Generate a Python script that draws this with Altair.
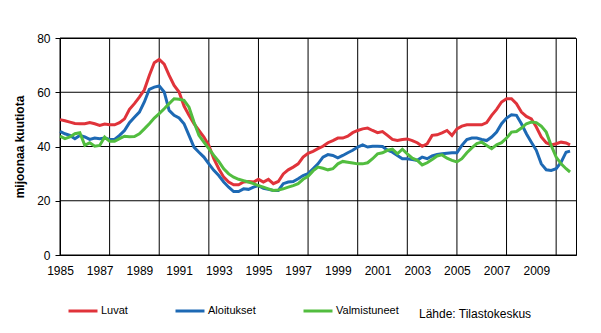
import altair as alt
import pandas as pd

# Quarterly time points (decimal years)
years = [1985 + 0.25 * i for i in range(103)] + [2010.7]

luvat = [
    49.9, 49.5, 49.0, 48.5,
    48.4, 48.4, 48.8, 48.4,
    47.8, 48.3, 48.0, 48.0,
    48.8, 50.2, 53.7, 55.8,
    58.2, 60.9, 66.2, 70.9,
    72.1, 70.4, 66.2, 62.5,
    60.1, 54.9, 51.5, 48.4,
    45.9, 43.5, 40.4, 35.5,
    31.8, 28.7, 26.9, 25.9,
    25.9, 26.9, 27.1, 26.9,
    27.9, 26.9, 27.9, 26.3,
    27.1, 29.9, 31.4, 32.4,
    33.6, 36.1, 37.5, 38.2,
    39.2, 40.1, 41.4, 42.2,
    43.1, 43.1, 43.8, 45.1,
    45.9, 46.5, 46.8, 45.9,
    45.1, 45.5, 44.1, 42.6,
    42.2, 42.6, 42.8, 42.2,
    41.4, 40.1, 41.0, 44.1,
    44.3, 45.0, 45.9, 44.1,
    46.5, 47.5, 48.0, 48.0,
    48.0, 48.0, 48.8, 51.5,
    53.7, 56.4, 57.6, 57.6,
    55.8, 52.7, 51.1, 50.2,
    47.2, 43.5, 41.4, 40.6,
    41.0, 41.6, 41.3, 40.6,
]

aloitukset = [
    45.6, 44.7, 44.1, 42.9,
    44.1, 43.5, 42.6, 43.1,
    42.9, 43.1, 42.6, 42.6,
    44.1, 45.9, 48.8, 50.8,
    52.7, 56.4, 61.1, 61.9,
    62.3, 60.1, 53.3, 51.5,
    50.5, 48.4, 44.1, 39.8,
    37.9, 36.1, 33.6, 31.2,
    29.3, 26.9, 25.0, 23.4,
    23.4, 24.4, 24.2, 25.0,
    25.6, 24.6, 24.2, 23.8,
    23.8, 26.3, 26.9, 27.1,
    28.1, 29.3, 30.0, 31.8,
    33.6, 36.1, 37.0, 36.7,
    35.8, 36.7, 37.7, 38.6,
    39.8, 40.6, 39.8, 40.1,
    40.1, 40.0, 38.6, 37.9,
    36.7, 35.5, 35.5, 35.2,
    34.9, 36.1, 35.5, 36.5,
    37.1, 37.3, 37.5, 37.7,
    37.7, 40.4, 42.6, 43.1,
    43.1, 42.6, 42.2, 43.5,
    45.3, 48.4, 50.5, 51.7,
    51.5, 48.4, 44.7, 41.6,
    38.6, 33.6, 31.4, 31.2,
    31.8, 34.2, 37.9, 38.3,
]

valmistuneet = [
    43.8, 42.9, 43.5, 44.7,
    45.1, 40.4, 41.4, 40.1,
    40.4, 43.5, 41.9, 41.9,
    42.9, 43.8, 43.6, 43.7,
    44.7, 46.5, 48.4, 50.5,
    52.1, 53.9, 55.8, 57.6,
    57.4, 57.0, 54.5, 49.0,
    44.1, 41.6, 39.2, 36.7,
    34.5, 31.8, 29.9, 28.7,
    27.9, 27.4, 26.9, 26.3,
    25.6, 25.0, 24.4, 23.8,
    24.0, 24.4, 25.0, 25.6,
    26.3, 27.9, 29.0, 31.0,
    32.4, 32.0, 31.4, 31.8,
    33.6, 34.5, 34.2, 33.9,
    33.6, 33.6, 34.0, 35.5,
    37.3, 37.7, 38.6, 39.0,
    37.3, 39.0, 37.3, 35.7,
    34.9, 33.2, 34.0, 35.2,
    36.5, 36.9, 35.7, 34.9,
    34.3, 35.5, 37.7, 39.5,
    41.1, 41.6, 40.4, 39.2,
    40.6, 41.4, 43.1, 45.3,
    45.5, 46.8, 48.4, 49.0,
    48.8, 47.5, 45.3, 40.4,
    36.1, 33.6, 31.8, 30.6,
]

series_names = ["Luvat", "Aloitukset", "Valmistuneet"]
series_colors = ["#E0333A", "#1D69B4", "#52BD3F"]
grid_years = [1985 + 2.5 * k for k in range(11)]
label_years = list(range(1985, 2010, 2))
y_ticks = [0, 20, 40, 60, 80]
source_text = ["Lähde: Tilastokeskus"]

rows = []
for name, vals in zip(series_names, [luvat, aloitukset, valmistuneet]):
    for t, v in zip(years, vals):
        rows.append({"t": t, "v": v, "sarja": name})
df = pd.DataFrame(rows)

x_scale = alt.Scale(domain=[1985, 2011], nice=False, zero=False)
y_scale = alt.Scale(domain=[0, 80], nice=False)

x_axis = alt.Axis(
    values=label_years,
    format="d",
    grid=False,
    ticks=False,
    labelOverlap=False,
    labelFlush=False,
    labelPadding=10,
    title=None,
)

y_axis = alt.Axis(
    values=y_ticks,
    grid=False,
    title="mijoonaa kuutiota",
    titleFontWeight="bold",
    titleFontSize=12,
    titlePadding=10,
    labelPadding=5,
)

vgrid = alt.Chart(pd.DataFrame({"t": grid_years})).mark_rule(
    color="#000000", strokeWidth=1
).encode(x=alt.X("t:Q", scale=x_scale, axis=x_axis))

hgrid = alt.Chart(pd.DataFrame({"v": y_ticks})).mark_rule(
    color="#000000", strokeWidth=1
).encode(y=alt.Y("v:Q", scale=y_scale, axis=y_axis))

lines = alt.Chart(df).mark_line(strokeWidth=3).encode(
    x=alt.X("t:Q", scale=x_scale, axis=x_axis),
    y=alt.Y("v:Q", scale=y_scale, axis=y_axis),
    color=alt.Color(
        "sarja:N",
        scale=alt.Scale(domain=series_names, range=series_colors),
        sort=series_names,
        legend=alt.Legend(
            title=None,
            orient="none",
            direction="horizontal",
            legendX=7,
            legendY=257,
            symbolType="stroke",
            symbolSize=841,
            symbolStrokeWidth=3,
            labelFontSize=11,
            labelOffset=2,
            columnPadding=41,
        ),
    ),
    order=alt.Order("t:Q"),
)

source = alt.Chart(pd.DataFrame({"txt": source_text})).mark_text(
    align="left", baseline="alphabetic", fontSize=12, color="#000000"
).encode(
    text="txt:N",
    x=alt.value(359),
    y=alt.value(280),
)

chart = alt.layer(vgrid, hgrid, lines, source).properties(
    width=516,
    height=217,
    autosize="none",
    padding={"left": 60, "top": 38, "right": 25, "bottom": 78},
    background="#ffffff",
).configure(
    font="Liberation Sans",
).configure_view(
    stroke="#000000",
    strokeWidth=1,
).configure_axis(
    domainColor="#000000",
    tickColor="#000000",
    tickSize=5,
    labelFontSize=12,
    labelColor="#000000",
    titleColor="#000000",
    labelFont="Liberation Sans",
    titleFont="Liberation Sans",
).configure_legend(
    labelColor="#000000",
    labelFont="Liberation Sans",
)

chart.save("out.html", embed_options={"renderer": "svg", "actions": False})
